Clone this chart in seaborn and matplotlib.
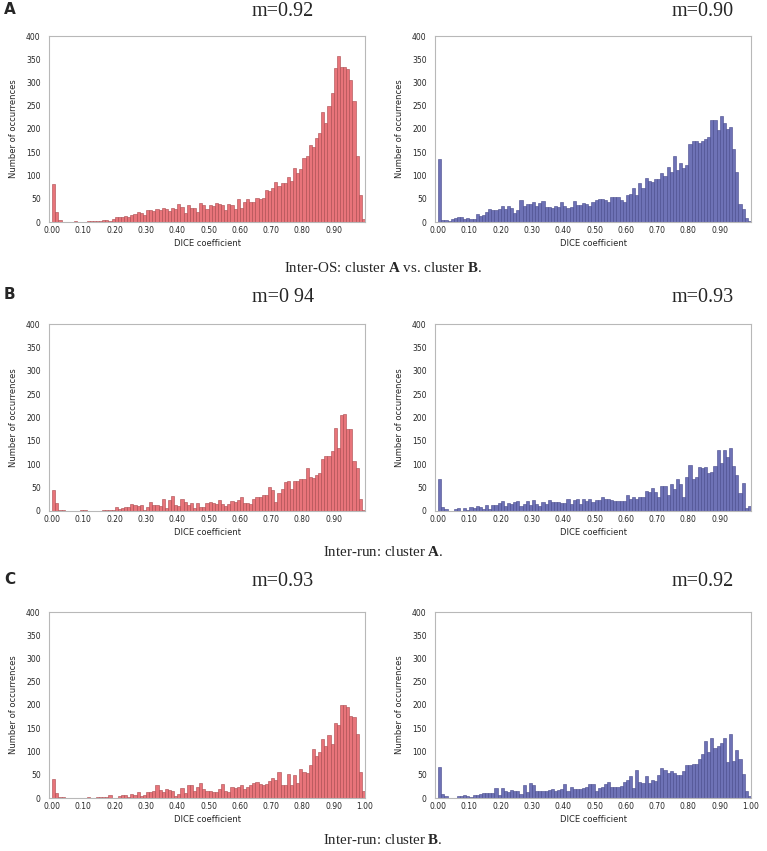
import numpy as np
import pandas as pd
import matplotlib
matplotlib.use('Agg')
import matplotlib.pyplot as plt
import seaborn as sns

# bin counts (100 bins of width 0.01 over [0, 1])
red_os = [81, 21, 5, 1, 0, 0, 0, 2, 1, 0,
          1, 2, 2, 3, 3, 3, 4, 4, 2, 6,
          11, 10, 10, 12, 11, 16, 18, 22, 20, 14,
          25, 25, 23, 27, 25, 31, 28, 23, 30, 27,
          39, 33, 20, 37, 31, 31, 21, 41, 37, 27,
          37, 35, 41, 39, 37, 26, 39, 36, 29, 49,
          30, 44, 50, 42, 44, 52, 49, 52, 69, 67,
          73, 86, 77, 84, 84, 97, 89, 117, 105, 114,
          137, 141, 165, 161, 180, 191, 237, 213, 250, 277,
          331, 356, 333, 333, 328, 306, 261, 141, 59, 6]
blue_os = [135, 5, 5, 2, 6, 8, 10, 11, 7, 9,
           7, 7, 18, 12, 16, 21, 27, 25, 25, 27,
           35, 29, 35, 30, 19, 25, 47, 34, 38, 39,
           44, 34, 40, 46, 33, 32, 31, 35, 33, 43,
           35, 30, 32, 45, 37, 37, 41, 39, 35, 42,
           47, 49, 49, 47, 44, 54, 54, 54, 47, 42,
           59, 61, 73, 57, 84, 74, 95, 89, 86, 93,
           93, 105, 98, 119, 107, 141, 112, 127, 117, 123,
           167, 175, 175, 170, 175, 178, 183, 220, 220, 198,
           227, 213, 200, 204, 158, 108, 38, 29, 8, 3]
red_a = [45, 17, 3, 3, 0, 0, 0, 1, 0, 2,
         2, 0, 1, 0, 0, 1, 2, 3, 3, 2,
         8, 5, 7, 9, 8, 15, 12, 11, 13, 3,
         8, 20, 13, 13, 11, 26, 7, 23, 33, 12,
         10, 25, 20, 13, 18, 6, 18, 8, 9, 18,
         19, 18, 16, 23, 14, 11, 16, 21, 19, 23,
         30, 18, 18, 14, 26, 31, 30, 34, 34, 51,
         44, 20, 39, 48, 62, 64, 48, 64, 65, 68,
         68, 91, 73, 71, 78, 82, 112, 118, 118, 128,
         178, 135, 205, 208, 175, 175, 107, 91, 25, 3]
blue_a = [68, 9, 4, 0, 0, 5, 7, 0, 7, 2,
          8, 7, 10, 8, 5, 13, 4, 12, 12, 18,
          21, 10, 17, 16, 20, 21, 11, 14, 21, 12,
          23, 16, 10, 20, 16, 23, 19, 20, 20, 18,
          18, 25, 14, 23, 25, 16, 25, 21, 26, 19,
          23, 24, 31, 25, 25, 23, 22, 22, 22, 22,
          34, 25, 29, 26, 29, 30, 43, 41, 49, 41,
          30, 53, 53, 35, 57, 48, 69, 57, 30, 73,
          98, 69, 73, 94, 91, 94, 81, 84, 97, 130,
          102, 130, 116, 135, 97, 78, 39, 59, 6, 10]
red_b = [41, 11, 2, 2, 1, 1, 0, 1, 0, 0,
         0, 3, 0, 1, 2, 2, 2, 3, 6, 1,
         1, 5, 6, 6, 3, 8, 6, 13, 5, 7,
         12, 13, 14, 28, 17, 13, 20, 17, 14, 5,
         9, 22, 10, 29, 28, 14, 23, 32, 19, 15,
         14, 12, 12, 19, 30, 16, 12, 23, 21, 23,
         27, 19, 23, 29, 32, 34, 30, 29, 31, 36,
         43, 39, 56, 29, 29, 52, 29, 50, 32, 63,
         56, 54, 70, 106, 90, 99, 127, 111, 136, 116,
         161, 158, 199, 199, 195, 176, 174, 138, 56, 14]
blue_b = [67, 9, 5, 1, 0, 1, 4, 4, 7, 5,
          3, 7, 7, 9, 10, 11, 11, 10, 22, 7,
          22, 16, 13, 18, 16, 16, 9, 27, 12, 32,
          27, 16, 14, 15, 14, 18, 19, 16, 18, 20,
          30, 14, 24, 20, 19, 19, 22, 24, 30, 30,
          16, 22, 23, 31, 34, 24, 23, 24, 25, 34,
          39, 48, 22, 61, 34, 32, 47, 32, 39, 37,
          50, 65, 61, 54, 57, 54, 49, 50, 57, 72,
          72, 73, 73, 84, 95, 123, 99, 130, 108, 111,
          118, 130, 77, 138, 79, 103, 84, 52, 14, 4]

titles_left = ['m=0.92', 'm=0 94', 'm=0.93']
titles_right = ['m=0.90', 'm=0.93', 'm=0.92']
letters = ['A', 'B', 'C']
captions = [r'Inter-OS: cluster $\mathbf{A}$ vs. cluster $\mathbf{B}$.',
            r'Inter-run: cluster $\mathbf{A}$.',
            r'Inter-run: cluster $\mathbf{B}$.']

RED, RED_EDGE = '#e8747a', '#a8484c'
BLUE, BLUE_EDGE = '#6e72b6', '#45488a'

sns.set_style('white')
plt.rcParams['font.family'] = ['DejaVu Sans']
plt.rcParams['mathtext.fontset'] = 'custom'
plt.rcParams['mathtext.rm'] = 'Liberation Serif'
plt.rcParams['mathtext.bf'] = 'Liberation Serif:bold'

W, H = 767, 851
fig = plt.figure(figsize=(W / 100, H / 100), dpi=100)

centers = (np.arange(100) + 0.5) / 100


def draw(ax, counts, color, edge, xticks):
    df = pd.DataFrame({'dice': centers, 'n': counts})
    sns.histplot(data=df, x='dice', weights='n', bins=100, binrange=(0, 1),
                 color=color, edgecolor=edge, linewidth=0.4, alpha=1, ax=ax)
    ax.set_xlim(-0.01, 1.0)
    ax.set_ylim(0, 400)
    ax.set_yticks(range(0, 401, 50))
    ax.set_xticks(xticks)
    ax.set_xticklabels(['%.2f' % t for t in xticks])
    ax.tick_params(length=0, labelsize=5.5, pad=3)
    ax.tick_params(axis='y', pad=6)
    ax.set_xlabel('DICE coefficient', fontsize=6, labelpad=3)
    ax.set_ylabel('Number of occurrences', fontsize=6, labelpad=6)
    for s in ax.spines.values():
        s.set_color('#b8b8b8')
        s.set_linewidth(0.8)


rows = [(red_os, blue_os), (red_a, blue_a), (red_b, blue_b)]
tops = [36, 324, 612]
bottoms = [222, 511, 798]
title_y = [12, 297, 582]
cap_y = [268, 552, 840]
ticks_ab = [i / 10 for i in range(10)]
ticks_c = [i / 10 for i in range(11)]

for i, (left, right) in enumerate(rows):
    b = 1 - bottoms[i] / H
    h = (bottoms[i] - tops[i]) / H
    ax1 = fig.add_axes([49 / W, b, 316 / W, h])
    ax2 = fig.add_axes([435 / W, b, 316 / W, h])
    xt = ticks_c if i == 2 else ticks_ab
    draw(ax1, left, RED, RED_EDGE, xt)
    draw(ax2, right, BLUE, BLUE_EDGE, xt)

    fig.text(283 / W, 1 - title_y[i] / H, titles_left[i], ha='center', va='center',
             fontsize=14.5, family='Liberation Serif')
    fig.text(703 / W, 1 - title_y[i] / H, titles_right[i], ha='center', va='center',
             fontsize=14.5, family='Liberation Serif')
    fig.text(4 / W, 1 - (title_y[i] - 3) / H, letters[i], ha='left', va='center',
             fontsize=11, fontweight='bold')
    fig.text(383 / W, 1 - cap_y[i] / H, captions[i], ha='center', va='center',
             fontsize=10.8, family='Liberation Serif')

fig.savefig('out.png', dpi=100)
